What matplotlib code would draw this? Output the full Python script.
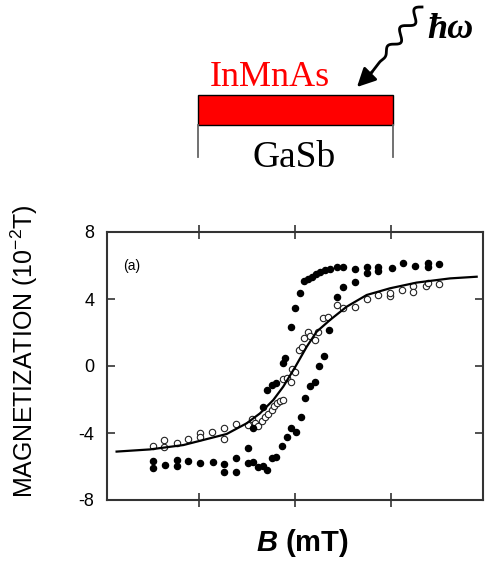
import numpy as np
import matplotlib.pyplot as plt
from matplotlib.patches import Rectangle

# field in arbitrary units (ticks unlabeled), magnetization in 1e-2 T
fit_b = [-1.858, -1.510, -1.163, -0.712, -0.503, -0.365, -0.226, -0.122, 0.0,
         0.122, 0.226, 0.365, 0.538, 0.747, 0.990, 1.267, 1.615, 1.892]
fit_m = [-5.11, -4.98, -4.72, -4.06, -3.42, -2.83, -2.03, -1.23, -0.08,
         1.15, 2.05, 2.75, 3.54, 4.24, 4.64, 4.98, 5.23, 5.33]

open_b = [-1.483, -1.361, -1.361, -1.233, -1.111, -0.990, -0.990, -0.868, -0.740,
          -0.740, -0.615, -0.493, -0.451, -0.417, -0.382, -0.347, -0.313, -0.278,
          -0.243, -0.219, -0.191, -0.156, -0.128, -0.128, -0.087, -0.045, -0.035,
          0.0, 0.045, 0.069, 0.094, 0.139, 0.156, 0.208, 0.243, 0.295, 0.347,
          0.441, 0.497, 0.625, 0.747, 0.868, 0.990, 0.990, 1.111, 1.233, 1.233,
          1.365, 1.389, 1.503]
open_m = [-4.78, -4.42, -4.86, -4.58, -4.34, -3.98, -4.22, -3.92, -3.72,
          -4.34, -3.48, -3.52, -3.18, -3.42, -3.58, -3.26, -3.06, -2.87,
          -2.63, -2.39, -2.23, -2.07, -2.03, -0.80, -0.74, -0.94, -0.20,
          -0.34, 0.96, 1.15, 1.65, 2.05, 1.79, 1.55, 2.05, 2.85, 2.95,
          3.64, 3.44, 3.54, 3.98, 4.24, 4.18, 4.34, 4.54, 4.78, 4.44,
          4.78, 4.94, 4.90]

# filled: sweep down (upper branch)
down_b = [1.503, 1.389, 1.389, 1.250, 1.128, 1.007, 0.868, 0.868, 0.747, 0.747,
          0.625, 0.503, 0.441, 0.365, 0.313, 0.260, 0.219, 0.174, 0.139, 0.094,
          0.052, 0.0, -0.045, -0.104, -0.128, -0.198, -0.243, -0.295, -0.337,
          -0.434, -0.493, -0.615, -0.740, -0.858, -0.990, -1.111, -1.226, -1.226,
          -1.354, -1.483, -1.483]
down_m = [6.07, 6.13, 5.89, 5.97, 6.13, 5.83, 5.89, 5.69, 5.89, 5.53,
          5.77, 5.89, 5.89, 5.77, 5.73, 5.63, 5.49, 5.33, 5.19, 5.09,
          4.34, 3.44, 2.31, 0.46, 0.20, -1.03, -1.13, -1.43, -2.43,
          -3.72, -4.92, -5.51, -5.85, -5.75, -5.81, -5.65, -5.61, -5.97,
          -5.91, -5.65, -6.11]

# filled: sweep up (lower branch)
up_b = [-0.740, -0.615, -0.493, -0.434, -0.382, -0.330, -0.288, -0.243, -0.198,
        -0.139, -0.087, -0.045, 0.010, 0.059, 0.104, 0.156, 0.208, 0.253, 0.302,
        0.358, 0.434, 0.503, 0.625]
up_m = [-6.31, -6.31, -5.77, -5.71, -6.01, -5.97, -6.21, -5.51, -5.41,
        -4.78, -4.22, -3.72, -3.92, -3.02, -1.93, -1.19, -0.94, 0.0, 0.62,
        2.15, 4.14, 4.74, 5.03]

y_ticks = [-8, -4, 0, 4, 8]
x_ticks = [-1, 0, 1]

W, H = 487, 564
plt.rcParams["font.family"] = ["Liberation Sans", "DejaVu Sans"]
plt.rcParams["mathtext.fontset"] = "custom"
plt.rcParams["mathtext.rm"] = "Liberation Sans"
plt.rcParams["mathtext.bfit"] = "Liberation Sans:italic:bold"
fig = plt.figure(figsize=(W / 100, H / 100), dpi=100)

ax = fig.add_axes([107 / W, 1 - 500 / H, 376 / W, 268 / H])
ax.plot(fit_b, fit_m, color="black", lw=1.6, zorder=3)
ax.plot(open_b, open_m, "o", ms=4.6, mfc="white", mec="#222222", mew=0.8, zorder=2)
ax.plot(down_b, down_m, "o", ms=4.4, color="black", zorder=4)
ax.plot(up_b, up_m, "o", ms=4.4, color="black", zorder=4)

ax.set_xlim(-1.958, 1.958)
ax.set_ylim(-8, 8)
ax.set_xticks(x_ticks)
ax.set_xticklabels([])
ax.set_yticks(y_ticks)
ax.set_yticklabels([str(t) for t in y_ticks], fontsize=13)
ax.tick_params(axis="y", direction="in", left=True, right=True, length=6,
               width=1.2, color="#333333", pad=9)
ax.tick_params(axis="x", direction="inout", bottom=True, top=True, length=10,
               width=1.2, color="#333333")
for s in ax.spines.values():
    s.set_color("#333333")
    s.set_linewidth(1.5)
ax.text(0.043, 0.873, "(a)", transform=ax.transAxes, fontsize=10,
        va="center", ha="left")
ax.set_ylabel("MAGNETIZATION (10$^{\\mathregular{-2}}$T)", fontsize=18)
ax.yaxis.set_label_coords(-0.178, 0.556)
ax.set_xlabel("$\\mathbfit{B}$ (mT)", fontsize=21, fontweight="bold")
ax.xaxis.set_label_coords(0.52, -0.1)

# sample sketch on top, in pixel coords
top = fig.add_axes([0, 0, 1, 1], zorder=-1)
top.set_xlim(0, W)
top.set_ylim(H, 0)
top.axis("off")
top.add_patch(Rectangle((198, 95), 195, 30, facecolor="#ff0000",
                        edgecolor="black", lw=1))
top.plot([198, 198], [125, 157], color="#666666", lw=1.3)
top.plot([393, 393], [125, 157], color="#666666", lw=1.3)
top.text(270, 77, "InMnAs", color="#ff0000", fontsize=26,
         family="Liberation Serif", ha="center", va="center")
top.text(294, 158, "GaSb", color="black", fontsize=27,
         family="Liberation Serif", ha="center", va="center")
top.text(450, 30, "ħω", color="black", fontsize=26, family="Liberation Serif",
         fontweight="bold", style="italic", ha="center", va="center")

# wavy photon arrow
p0 = np.array([422.0, 7.0])
p1 = np.array([372.0, 72.0])
t = np.linspace(0, 1, 200)
d = p1 - p0
n = np.array([-d[1], d[0]]) / np.hypot(*d)
amp = 5 * np.clip((0.85 - t) / 0.3, 0, 1)
wave = amp * np.sin(2 * np.pi * 3.5 * t)
pts = p0[None, :] + t[:, None] * d[None, :] + wave[:, None] * n[None, :]
top.plot(pts[:, 0], pts[:, 1], color="black", lw=2)
top.annotate("", xy=(355, 89), xytext=(374, 70),
             arrowprops=dict(arrowstyle="-|>", mutation_scale=28,
                             color="black", lw=2))

fig.savefig("out.png", dpi=100)
